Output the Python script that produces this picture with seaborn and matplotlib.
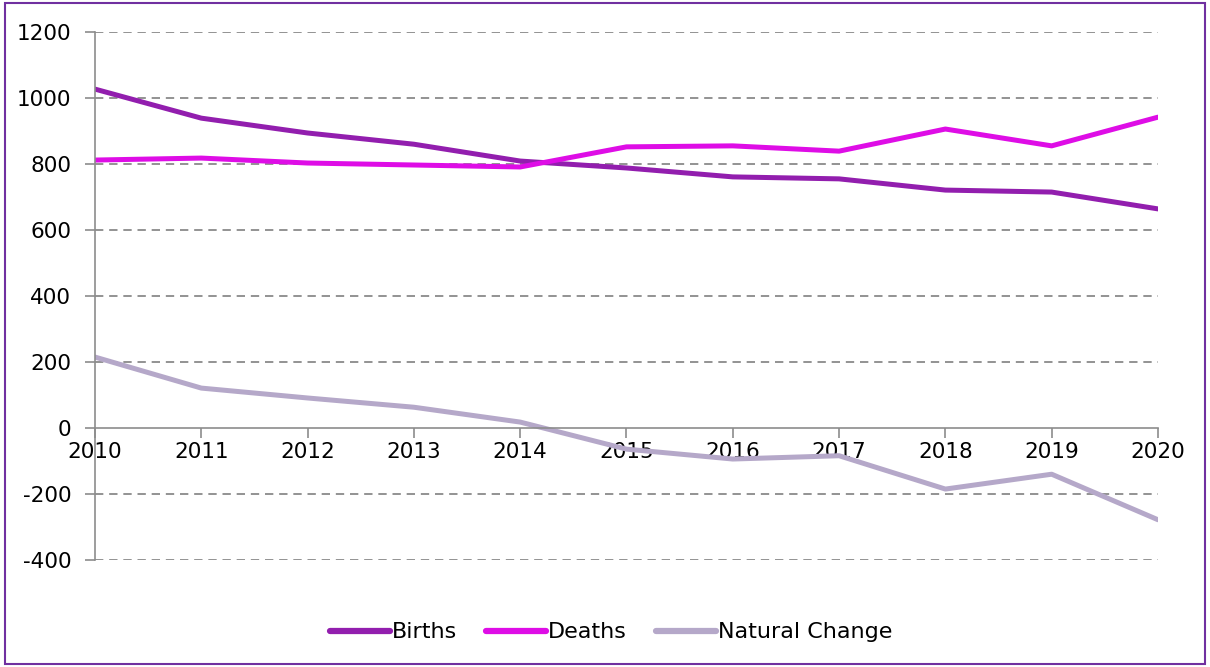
import matplotlib
matplotlib.use("Agg")
import matplotlib.pyplot as plt
import seaborn as sns
import pandas as pd
from matplotlib.patches import Rectangle

years = [2010, 2011, 2012, 2013, 2014, 2015, 2016, 2017, 2018, 2019, 2020]
births = [1027, 939, 894, 860, 809, 788, 761, 755, 721, 715, 664]
deaths = [812, 818, 803, 797, 791, 852, 855, 839, 906, 855, 942]
natural_change = [215, 121, 91, 63, 18, -64, -94, -84, -185, -140, -278]

series_names = ['Births', 'Deaths', 'Natural Change']
colours = ['#921EAE', '#DE0DE6', '#B5A8C9']

df = pd.DataFrame({'Year': years, 'Births': births, 'Deaths': deaths,
                   'Natural Change': natural_change})
long_df = df.melt(id_vars='Year', var_name='Series', value_name='Value')

sns.set_style('white')
plt.rcParams['font.family'] = ['DejaVu Sans']
plt.rcParams['axes.unicode_minus'] = False

fig = plt.figure(figsize=(12.1, 6.67), dpi=100)
ax = fig.add_axes([0.0785, 0.1604, 0.8785, 0.7916])

sns.lineplot(data=long_df, x='Year', y='Value', hue='Series', hue_order=series_names,
             palette=colours, linewidth=3.6, ax=ax, solid_capstyle='round')

ax.set_xlim(2010, 2020)
ax.set_ylim(-400, 1200)
ax.set_yticks(range(-400, 1201, 200))
ax.set_xticks(years)
ax.set_xticklabels([str(y) for y in years])
ax.set_xlabel('')
ax.set_ylabel('')

for v in range(-400, 1201, 200):
    if v != 0:
        ax.axhline(v, color='#808080', linestyle=(0, (5, 3.5)), linewidth=1.2, zorder=0)

for s in ['top', 'right']:
    ax.spines[s].set_visible(False)
ax.spines['bottom'].set_position(('data', 0))
ax.spines['bottom'].set_color('#8c8c8c')
ax.spines['left'].set_color('#8c8c8c')
ax.spines['bottom'].set_linewidth(1.2)
ax.spines['left'].set_linewidth(1.2)
ax.tick_params(axis='both', which='both', direction='out', length=7, width=1.2,
               color='#8c8c8c', labelsize=15.5, labelcolor='black',
               bottom=True, left=True)
ax.tick_params(axis='y', pad=10)
ax.tick_params(axis='x', pad=3)

leg = ax.legend(loc='center', bbox_to_anchor=(0.505, 0.052), bbox_transform=fig.transFigure,
                ncol=3, frameon=False, fontsize=16, handlelength=2.7, handletextpad=0.1,
                columnspacing=1.3)
for text in leg.get_texts():
    text.set_color('black')
for line in leg.get_lines():
    line.set_linewidth(4.5)
    line.set_solid_capstyle('round')

fig.patches.append(Rectangle((0.004, 0.004), 0.992, 0.992, transform=fig.transFigure,
                             fill=False, edgecolor='#7030A0', linewidth=1.5))

fig.savefig('out.png', dpi=100)
